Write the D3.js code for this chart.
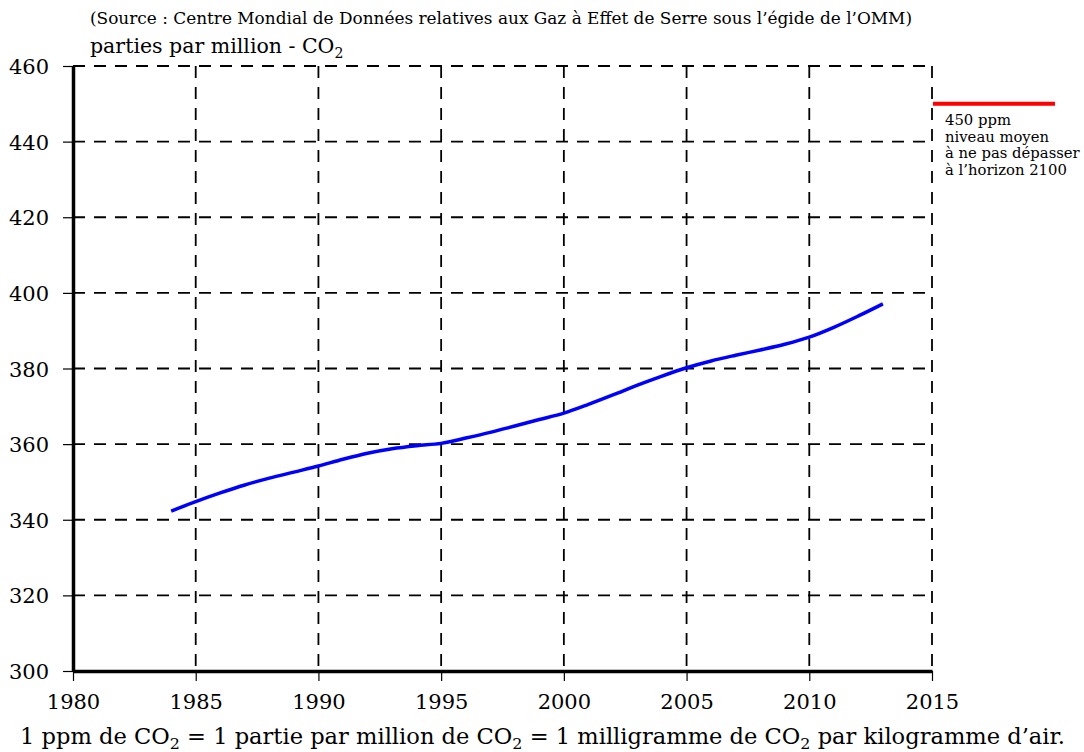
<!DOCTYPE html>
<html>
<head>
<meta charset="utf-8">
<script src="https://cdn.jsdelivr.net/npm/d3@7"></script>
<style>
  body { margin: 0; background: #fff; }
  svg { display: block; font-family: "DejaVu Serif", serif; }
</style>
</head>
<body>
<svg id="chart" width="1084" height="752"></svg>
<script>
// CO2 concentration (ppm)
const years = [1984, 1985, 1986, 1987, 1988, 1989, 1990, 1991, 1992, 1993, 1994, 1995, 1996, 1997, 1998,
  1999, 2000, 2001, 2002, 2003, 2004, 2005, 2006, 2007, 2008, 2009, 2010, 2011, 2012, 2013]
const ppm = [342.3, 344.8, 347.1, 349.2, 351.0, 352.6, 354.2, 356.0, 357.6, 358.8, 359.6, 360.2, 361.6, 363.1, 364.8,
  366.5, 368.2, 370.5, 373.0, 375.6, 378.0, 380.2, 382.0, 383.5, 384.9, 386.4, 388.3, 390.9, 393.9, 397.1]
const xTicks = [1980, 1985, 1990, 1995, 2000, 2005, 2010, 2015]
const yTicks = [300, 320, 340, 360, 380, 400, 420, 440, 460]
const limit = 450
const limitLines = ["450 ppm", "niveau moyen", "à ne pas dépasser", "à l’horizon 2100"]

const svg = d3.select("#chart")
const mLeft = 73, mRight = 932, mTop = 66, mBottom = 671

const x = d3.scaleLinear().domain([1980, 2015]).range([mLeft, mRight])
const y = d3.scaleLinear().domain([300, 460]).range([mBottom, mTop])

// source line
svg.append("text")
  .attr("x", 90).attr("y", 24)
  .attr("font-size", 16)
  .attr("textLength", 822).attr("lengthAdjust", "spacingAndGlyphs")
  .text("(Source : Centre Mondial de Données relatives aux Gaz à Effet de Serre sous l’égide de l’OMM)")

// y title
const yt = svg.append("text").attr("x", 90).attr("y", 53).attr("font-size", 20.5)
yt.append("tspan").text("parties par million - CO")
yt.append("tspan").attr("font-size", 14).attr("dy", 5).text("2")

// dashed grid
const grid = svg.append("g")
  .attr("stroke", "#000").attr("stroke-width", 1.8).attr("stroke-dasharray", "12,9")
grid.selectAll(".h").data(yTicks.filter(d => d > 300)).join("line")
  .attr("x1", mLeft).attr("x2", mRight)
  .attr("y1", d => y(d)).attr("y2", d => y(d))
grid.selectAll(".v").data(xTicks.filter(d => d > 1980)).join("line")
  .attr("x1", d => x(d)).attr("x2", d => x(d))
  .attr("y1", mTop).attr("y2", mBottom)

// axes
const xAxis = svg.append("g")
  .attr("transform", `translate(0,${mBottom})`)
  .call(d3.axisBottom(x).tickValues(xTicks).tickFormat(d3.format("d")).tickSize(10).tickSizeOuter(0))
const yAxis = svg.append("g")
  .attr("transform", `translate(${mLeft},0)`)
  .call(d3.axisLeft(y).tickValues(yTicks).tickSize(10).tickSizeOuter(0))

for (const ax of [xAxis, yAxis]) {
  ax.attr("font-family", null).attr("font-size", 21)
  ax.select(".domain").attr("stroke", "#000").attr("stroke-width", 3.5)
  ax.selectAll(".tick line").attr("stroke", "#000").attr("stroke-width", 1.2)
  ax.selectAll(".tick text").attr("fill", "#000")
}
xAxis.selectAll(".tick text").attr("dy", "1.2em")
yAxis.selectAll(".tick text").attr("x", -24).attr("dy", "0.36em")

// curve
const line = d3.line()
  .x((d, i) => x(years[i]))
  .y(d => y(d))
  .curve(d3.curveMonotoneX)
svg.append("path")
  .datum(ppm)
  .attr("fill", "none")
  .attr("stroke", "#0000ff")
  .attr("stroke-width", 3.5)
  .attr("d", line)

// 450 ppm limit
svg.append("line")
  .attr("x1", mRight + 1).attr("x2", 1055)
  .attr("y1", y(limit)).attr("y2", y(limit))
  .attr("stroke", "#ff0000").attr("stroke-width", 4)
svg.append("g").selectAll("text").data(limitLines).join("text")
  .attr("x", 945)
  .attr("y", (d, i) => y(limit) + 21 + i * 16.8)
  .attr("font-size", 14.8)
  .text(d => d)

// bottom note
const note = svg.append("text").attr("x", 20).attr("y", 744).attr("font-size", 22)
  .attr("textLength", 1045).attr("lengthAdjust", "spacingAndGlyphs")
const parts = ["1 ppm de CO", "2", " = 1 partie par million de CO", "2", " = 1 milligramme de CO", "2", " par kilogramme d’air."]
parts.forEach((p, i) => {
  if (i % 2 === 1) {
    note.append("tspan").attr("font-size", 15.5).attr("dy", 5).text(p)
  } else {
    note.append("tspan").attr("dy", i === 0 ? 0 : -5).text(p)
  }
})
</script>
</body>
</html>
